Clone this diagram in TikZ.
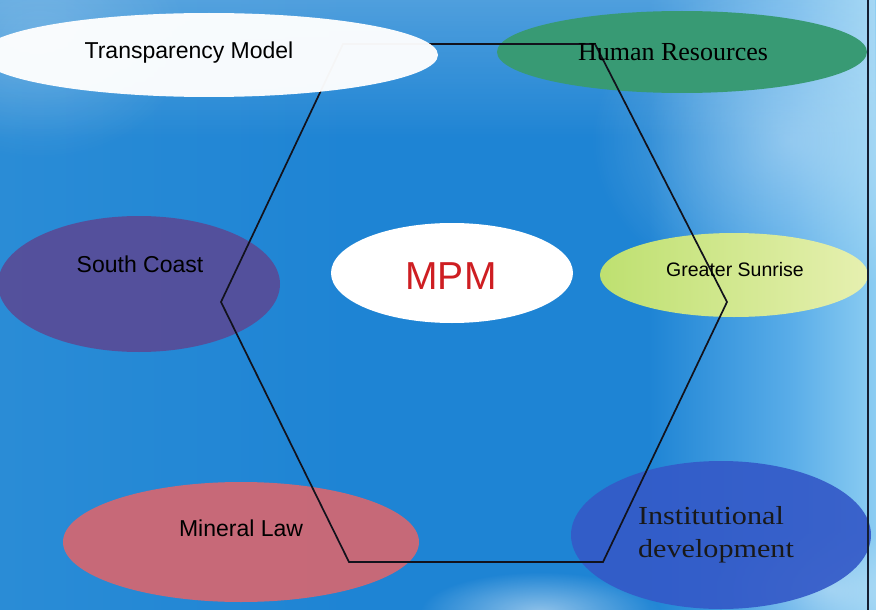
\documentclass[tikz,border=0pt]{standalone}
\usepackage{fontspec}
\setmainfont{Liberation Serif}
\newfontfamily\arialf{Liberation Sans}
\newfontfamily\widef[FakeStretch=1.16]{Liberation Serif}
\usetikzlibrary{shapes.geometric,fadings}
\definecolor{bgmid}{RGB}{30,132,212}
\definecolor{bgleft}{RGB}{42,140,214}
\definecolor{bglight}{RGB}{88,172,232}
\definecolor{bgedge}{RGB}{140,205,242}
\definecolor{hrgreen}{RGB}{56,154,116}
\definecolor{scpurple}{RGB}{88,76,152}
\definecolor{gsleft}{RGB}{190,224,112}
\definecolor{gsright}{RGB}{230,240,176}
\definecolor{mlred}{RGB}{208,104,116}
\definecolor{idblue}{RGB}{52,90,200}
\definecolor{mpmred}{RGB}{206,30,34}
\definecolor{hexline}{RGB}{18,18,28}
\definecolor{borderline}{RGB}{20,30,50}
\pgfdeclarehorizontalshading{bgh}{100bp}{color(0bp)=(bgleft); color(25bp)=(bgleft); color(45bp)=(bgmid); color(62bp)=(bgmid); color(70bp)=(bglight); color(75bp)=(bgedge); color(100bp)=(bgedge)}
\tikzfading[name=softspot, inner color=transparent!0, outer color=transparent!100]
\tikzset{
  blob/.style={ellipse, inner sep=0pt, draw=none},
  sanslabel/.style={font=\arialf\fontsize{23}{25}\selectfont, text=black, inner sep=0pt},
  seriflabel/.style={font=\fontsize{26}{28}\selectfont, text=black, inner sep=0pt, align=center},
  hexedge/.style={draw=hexline, line width=1.7pt, line join=miter},
  glow/.style={white, path fading=softspot}
}
\begin{document}
\begin{tikzpicture}[x=1pt,y=-1pt]
\useasboundingbox (0,0) rectangle (876,610);
\begin{scope}
\clip (0,0) rectangle (876,610);
% background
\shade[shading=bgh] (0,0) rectangle (876,610);
\fill[white, opacity=0.22, path fading=south] (0,0) rectangle (876,140);
\fill[glow, opacity=0.35] (790,140) ellipse (200 and 160);
\fill[glow, opacity=0.5] (540,612) ellipse (120 and 40);
\fill[glow, opacity=0.35] (830,590) ellipse (120 and 60);
\fill[glow, opacity=0.2] (40,40) ellipse (150 and 120);

% ellipses (under hexagon)
\node[blob, fill=hrgreen, minimum width=370pt, minimum height=82pt] (hr) at (682,52) {};
\node[blob, fill=scpurple, fill opacity=0.92, minimum width=282pt, minimum height=136pt] (sc) at (139,284) {};
\node[blob, left color=gsleft, right color=gsright, minimum width=268pt, minimum height=84pt] (gs) at (734,275) {};
\node[blob, fill=mlred, fill opacity=0.95, minimum width=356pt, minimum height=120pt] (ml) at (241,542) {};
\node[blob, fill=idblue, fill opacity=0.92, minimum width=300pt, minimum height=148pt] (id) at (721,535) {};
\node[blob, fill=white, minimum width=242pt, minimum height=100pt] (mpm) at (452,273) {};

% hexagon
\coordinate (h1) at (343,44);
\coordinate (h2) at (595,44);
\coordinate (h3) at (727,302);
\coordinate (h4) at (603,562);
\coordinate (h5) at (349,562);
\coordinate (h6) at (221,302);
\draw[hexedge] (h1) -- (h2) -- (h3) -- (h4) -- (h5) -- (h6) -- cycle;

% transparency model ellipse (on top, nearly opaque)
\node[blob, fill=white, fill opacity=0.96, minimum width=458pt, minimum height=84pt] (tm) at (209,55) {};

% texts
\node[sanslabel] (tmt) at (189,53) {Transparency Model};
\node[seriflabel] (hrt) at (673,52) {Human Resources};
\node[sanslabel] (sct) at (140,264) {South Coast};
\node[inner sep=0pt, font=\arialf\fontsize{39}{41}\selectfont, text=mpmred] (mpmt) at (451,276) {MPM};
\node[sanslabel, font=\arialf\fontsize{19.5}{21}\selectfont] (gst) at (735,270) {Greater Sunrise};
\node[sanslabel] (mlt) at (241,528) {Mineral Law};
\node[seriflabel, align=left, font=\widef\fontsize{26}{33}\selectfont, text=black!90] (idt) at (716,535) {Institutional\\development};
\end{scope}
\draw[borderline, line width=1.2pt] (868,0) -- (868,610);
\end{tikzpicture}
\end{document}
